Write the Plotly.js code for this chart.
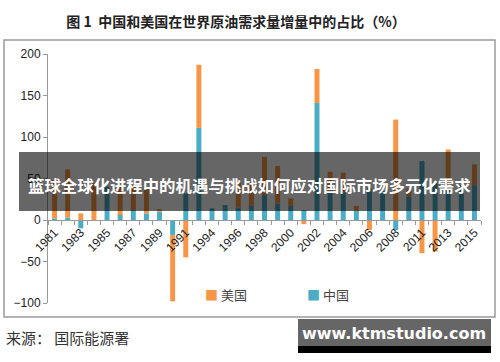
<!DOCTYPE html>
<html>
<head>
<meta charset="utf-8">
<script src="https://cdn.plot.ly/plotly-3.0.1.min.js"></script>
<style>html,body{margin:0;padding:0;background:#fff;}#chart{width:500px;height:362px;}</style>
</head>
<body>
<div id="chart"></div>
<script>
const years = ['1981','1982','1983','1984','1985','1986','1987','1988','1989','1990','1991','1993','1994','1995','1996','1997','1998','1999','2000','2001','2002','2003','2004','2005','2006','2007','2008','2010','2011','2012','2013','2014','2015'];
const china = [2,3,-10,0,40,6,12,8,10,-18,32,111,14,18,15,17,30,20,17,12,141,35,33,11,38,35,-12,28,71,45,38,42,42];
const usa   = [46,58,8,45,0,34,28,30,3,-80,-45,76,0,0,30,27,46,45,9,-5,41,23,24,6,-12,0,121,10,-40,-38,47,0,25];
const tickLabels = years.map((y,i)=> i%2===0 ? y : '');
const seriesNames = ['中国','美国'];
const seriesColors = ['#4BACC6','#F79646'];
const titleText = '图 1  中国和美国在世界原油需求量增量中的占比（%）';
const bandText = '篮球全球化进程中的机遇与挑战如何应对国际市场多元化需求';
const sourceText = '来源： 国际能源署';
const siteText = 'www.ktmstudio.com';

const cjk = '"Noto Sans CJK SC", "Liberation Sans", sans-serif';
const W=500,H=362,L=48,R=19,T=54,B=59;
const pw=W-L-R, ph=H-T-B;
const px = x => (x-L)/pw;
const py = y => (H-B-y)/ph;

const traces = [
  {type:'bar', name:seriesNames[0], x:years, y:china, marker:{color:seriesColors[0]}, showlegend:false},
  {type:'bar', name:seriesNames[1], x:years, y:usa, marker:{color:seriesColors[1]}, showlegend:false}
];

const legendItem = (i, x) => ({xref:'paper', yref:'paper', x:px(x), y:py(294), xanchor:'left', yanchor:'middle', showarrow:false,
  text:'<span style="color:'+seriesColors[i]+'">■</span> '+seriesNames[i], font:{family:cjk, size:13, color:'#444'}});

const layout = {
  width:W, height:H,
  margin:{l:L,r:R,t:T,b:B,pad:0},
  paper_bgcolor:'#fff', plot_bgcolor:'rgba(0,0,0,0)',
  barmode:'relative', bargap:0.62,
  font:{family:cjk, color:'#333', size:12},
  showlegend:false,
  title:{text:titleText, x:236/W, xanchor:'center', y:1-22/H, yanchor:'middle', xref:'container', yref:'container',
         font:{family:cjk, size:14, color:'#222', weight:'bold'}},
  xaxis:{type:'category', anchor:'free', position:1/3, showline:true, linecolor:'#999', linewidth:1,
         tickmode:'array', tickvals:years, ticktext:tickLabels, tickangle:-45, ticks:'outside', ticklen:4,
         tickcolor:'#999', tickson:'boundaries', showgrid:false, zeroline:false,
         tickfont:{family:'"Liberation Sans", Arial, sans-serif', size:12, color:'#222'}},
  yaxis:{range:[-100,200], dtick:50, showline:true, linecolor:'#999', linewidth:1, ticks:'outside', ticklen:4,
         tickcolor:'#999', showgrid:false, zeroline:false,
         tickfont:{family:'"Liberation Sans", Arial, sans-serif', size:12, color:'#222'}},
  shapes:[
    {type:'rect', xref:'paper', yref:'paper', x0:px(4), x1:px(495), y0:py(317), y1:py(40),
     line:{color:'#9a9a9a', width:1.5}, fillcolor:'rgba(0,0,0,0)', layer:'below'},
    {type:'rect', xref:'paper', yref:'paper', x0:px(19), x1:px(480), y0:py(211), y1:py(152),
     line:{width:0}, fillcolor:'rgba(0,0,0,0.6)', layer:'above'},
    {type:'rect', xref:'paper', yref:'paper', x0:px(298), x1:px(491), y0:py(346), y1:py(319),
     line:{width:0}, fillcolor:'#666666', layer:'above'},
    {type:'rect', xref:'paper', yref:'paper', x0:px(298), x1:px(491), y0:py(353), y1:py(346),
     line:{width:0}, fillcolor:'#000000', layer:'above'}
  ],
  annotations:[
    legendItem(1, 203),
    legendItem(0, 305),
    {xref:'paper', yref:'paper', x:px(249), y:py(185), xanchor:'center', yanchor:'middle', showarrow:false,
     text:bandText, font:{family:cjk, size:16.4, color:'#fff', weight:'bold'}},
    {xref:'paper', yref:'paper', x:px(4), y:py(337), xanchor:'left', yanchor:'middle', showarrow:false,
     text:sourceText, font:{family:cjk, size:15, color:'#333'}},
    {xref:'paper', yref:'paper', x:px(394), y:py(333), xanchor:'center', yanchor:'middle', showarrow:false,
     text:siteText, font:{family:'"DejaVu Sans", sans-serif', size:16, color:'#fff', weight:'bold'}}
  ]
};
Plotly.newPlot('chart', traces, layout, {staticPlot:true, displayModeBar:false});
</script>
</body>
</html>
